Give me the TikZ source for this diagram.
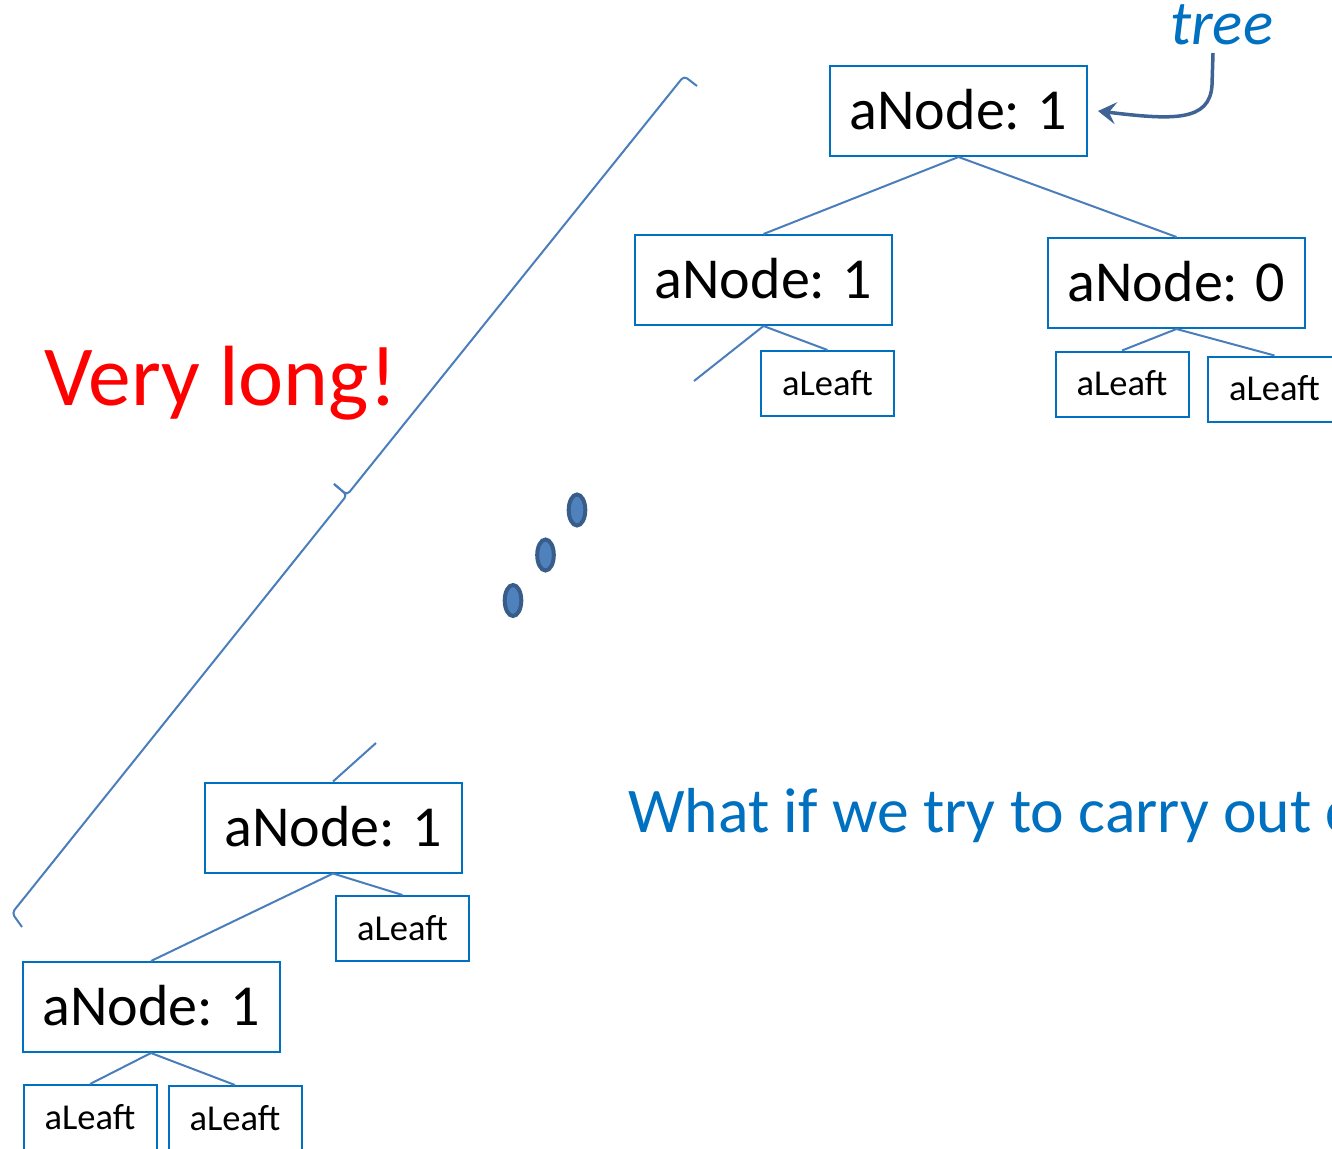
\documentclass[tikz,border=0pt]{standalone}
\usepackage{fontspec}
\setmainfont{Carlito}
\usetikzlibrary{arrows.meta}
\definecolor{boxblue}{RGB}{0,112,192}
\definecolor{edgeblue}{RGB}{74,126,187}
\definecolor{arrowblue}{RGB}{62,99,148}
\definecolor{dotfill}{RGB}{79,129,189}
\definecolor{dotline}{RGB}{56,93,138}
\definecolor{alarm}{RGB}{255,0,0}
\tikzset{
  inode/.style={draw=boxblue, line width=2pt, fill=white, inner sep=0pt,
    minimum width=257pt, minimum height=90pt, font=\fontsize{58}{60}\selectfont,
    text height=37pt, text depth=0pt},
  leafbox/.style={draw=boxblue, line width=2pt, fill=white, inner sep=0pt,
    minimum width=133pt, minimum height=65pt, font=\fontsize{36.5}{40}\selectfont,
    text height=23.5pt, text depth=0pt},
  edge/.style={draw=edgeblue, line width=2pt},
  ellipsisdot/.style={draw=dotline, fill=dotfill, line width=4pt},
}
\begin{document}
\begin{tikzpicture}[x=1pt, y=-1pt]
\useasboundingbox (0,0) rectangle (1332,1148);
\clip (0,0) rectangle (1332,1148);

% upper part of the tree
\node[inode] (root) at (958.5,111) {aNode: 1};
\node[inode] (n1) at (763.5,280) {aNode: 1};
\node[inode] (n0) at (1176.5,283) {aNode: 0};
\node[leafbox] (l1) at (827.5,383.5) {aLeaft};
\node[leafbox] (l2) at (1122,384) {aLeaft};
\node[leafbox] (l3) at (1274.5,389) {aLeaft};
\coordinate (cut1) at (694,381);

% lower part of the tree
\node[inode] (b1) at (333,827.5) {aNode: 1};
\node[leafbox] (lb) at (402.5,928.5) {aLeaft};
\node[inode] (b2) at (151,1007) {aNode: 1};
\node[leafbox] (lb1) at (90,1117.5) {aLeaft};
\node[leafbox] (lb2) at (235,1118.5) {aLeaft};
\coordinate (cut2) at (376,743);

% tree edges
\draw[edge] (root.south) -- (n1.north);
\draw[edge] (root.south) -- (n0.north);
\draw[edge] (n1.south) -- (cut1);
\draw[edge] (n1.south) -- (l1.north);
\draw[edge] (n0.south) -- (l2.north);
\draw[edge] (n0.south) -- (l3.north);
\draw[edge] (b1.north) -- (cut2);
\draw[edge] (b1.south) -- (b2.north);
\draw[edge] (b1.south) -- (lb.north);
\draw[edge] (b2.south) -- (lb1.north);
\draw[edge] (b2.south) -- (lb2.north);

% brace spanning the long path
\draw[edgeblue, line width=2pt, rounded corners=4pt]
  (22,927) -- (12,913) -- (347,495) -- (334,484);
\draw[edgeblue, line width=2pt, rounded corners=4pt]
  (334,484) -- (347,495) -- (684,76) -- (697,86);

% vertical ellipsis
\draw[ellipsisdot] (577,510) ellipse [x radius=8.3, y radius=15.5];
\draw[ellipsisdot] (545.5,555) ellipse [x radius=8.3, y radius=15.5];
\draw[ellipsisdot] (513,600.5) ellipse [x radius=8.3, y radius=15.5];

% labels
\node[anchor=base west, inner sep=0pt, text=boxblue, font=\fontsize{63}{64}\selectfont\itshape]
  (tree) at (1170,45) {tree};
\coordinate (tstart) at (1213,53);
\draw[arrowblue, line width=3.5pt, -{Stealth[length=18pt, width=22pt, inset=7pt]}]
  (tstart) -- (1212,85) .. controls (1210,122) and (1172,120) .. ([xshift=10pt]root.east);

\node[anchor=base west, inner sep=0pt, text=alarm, font=\fontsize{85.5}{87}\selectfont]
  (long) at (44,405) {Very long!};
\node[anchor=base west, inner sep=0pt, text=boxblue, font=\fontsize{63.6}{66}\selectfont]
  (question) at (628,832) {What if we try to carry out c};
\end{tikzpicture}
\end{document}
